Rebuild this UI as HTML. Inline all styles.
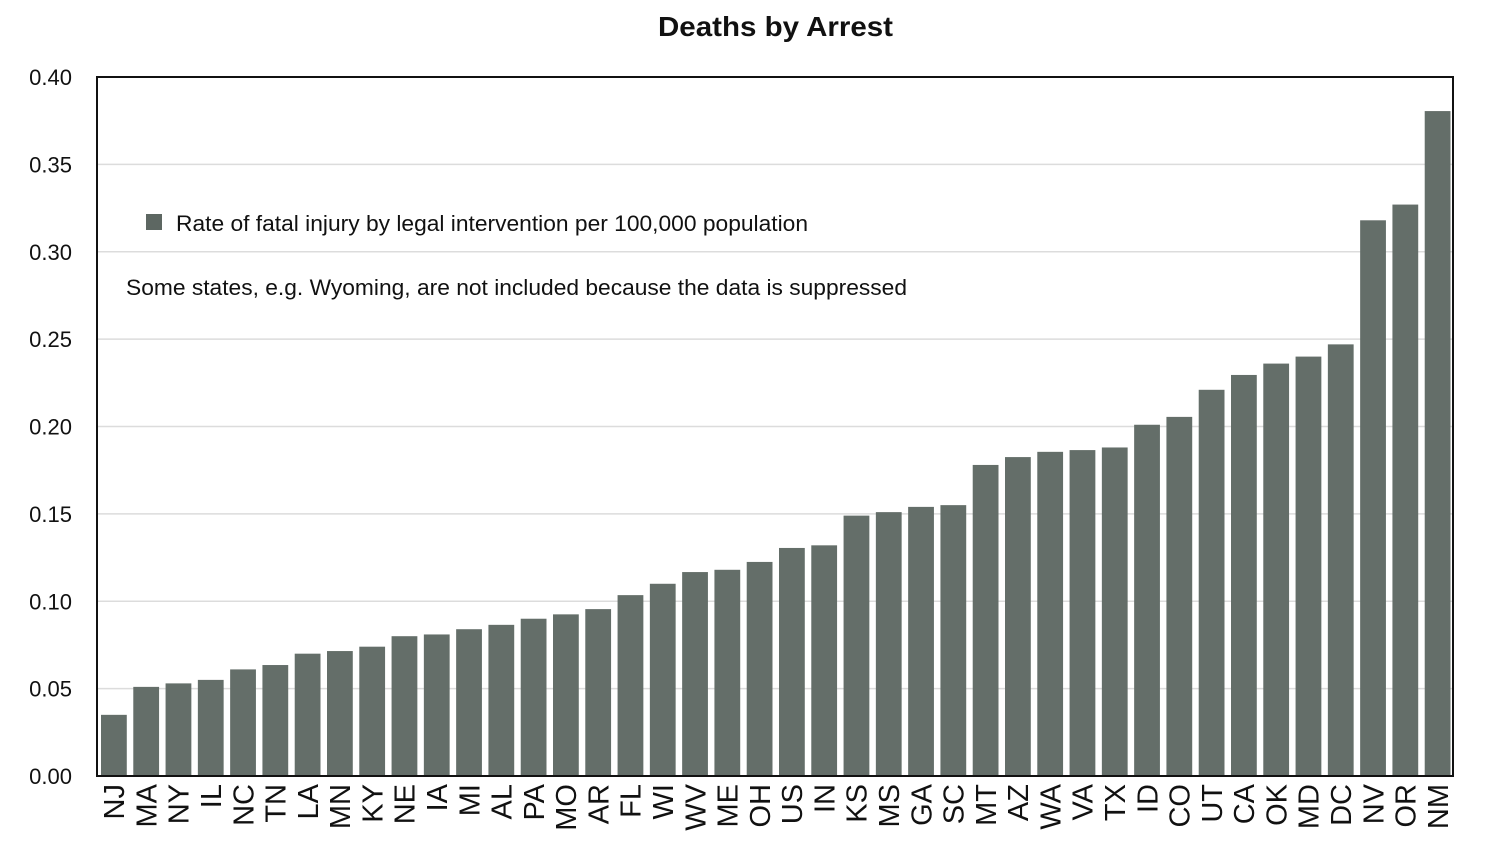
<!DOCTYPE html>
<html><head><meta charset="utf-8"><style>
html,body{margin:0;padding:0;background:#fff;}
body{width:1500px;height:848px;overflow:hidden;font-family:"Liberation Sans",Arial,sans-serif;}
</style></head><body>
<svg id="chart" width="1500" height="848" xmlns="http://www.w3.org/2000/svg" font-family="Liberation Sans, Arial, sans-serif"></svg>
<script>
const categories=["NJ","MA","NY","IL","NC","TN","LA","MN","KY","NE","IA","MI","AL","PA","MO","AR","FL","WI","WV","ME","OH","US","IN","KS","MS","GA","SC","MT","AZ","WA","VA","TX","ID","CO","UT","CA","OK","MD","DC","NV","OR","NM"];
const values=[0.035,0.051,0.053,0.055,0.061,0.0635,0.070,0.0715,0.074,0.080,0.081,0.084,0.0865,0.090,0.0925,0.0955,0.1035,0.110,0.1167,0.118,0.1225,0.1305,0.132,0.149,0.151,0.154,0.155,0.178,0.1825,0.1855,0.1865,0.188,0.201,0.2055,0.221,0.2295,0.236,0.240,0.247,0.318,0.327,0.3805];
const yTicks=[0,0.05,0.10,0.15,0.20,0.25,0.30,0.35,0.40];
const yTickLabels=["0.00","0.05","0.10","0.15","0.20","0.25","0.30","0.35","0.40"];

const svg=document.getElementById('chart');
const NS='http://www.w3.org/2000/svg';
const L=97,R=1453,T=77,B=776,yMax=0.40;
const y=v=>B-(v/yMax)*(B-T);
const band=(R-L)/categories.length;
const x=i=>L+i*band;
function mk(tag,attrs,parent){const e=document.createElementNS(NS,tag);for(const k in attrs)e.setAttribute(k,attrs[k]);(parent||svg).appendChild(e);return e;}

const title=mk('text',{x:658,y:36,'font-size':28,'font-weight':'bold',fill:'#111',textLength:235,lengthAdjust:'spacingAndGlyphs'});
title.textContent='Deaths by Arrest';



yTicks.forEach((t,i)=>{
  if(t>0&&t<yMax){const g=mk('line',{x1:L,x2:R,y1:y(t),y2:y(t),stroke:'#dcdcdc','stroke-width':1.5});
  
  }
  const lb=mk('text',{x:72,y:y(t)+8,'text-anchor':'end','font-size':22,fill:'#111'});
  lb.textContent=yTickLabels[i];
  
  
});

categories.forEach((c,i)=>{
  const bx=x(i)+4,bw=band-6.5;
  const r=mk('rect',{x:bx,y:y(values[i]),width:bw,height:B-y(values[i]),fill:'#646e69'});
  
  
  const cx=x(i)+band/2+1;
  const t=mk('text',{x:cx,y:784,dy:10,'text-anchor':'end','font-size':29,fill:'#111',transform:`rotate(-90 ${cx} 784)`});
  t.textContent=c;
  
  
});

const frame=mk('rect',{x:L,y:T,width:R-L,height:B-T,fill:'none',stroke:'#111','stroke-width':2});



const ls=mk('rect',{x:146,y:214,width:16,height:16,fill:'#5d6762'});


const lt=mk('text',{x:176,y:231,'font-size':22,fill:'#111',textLength:632,lengthAdjust:'spacingAndGlyphs'});
lt.textContent='Rate of fatal injury by legal intervention per 100,000 population';


const note=mk('text',{x:126,y:295,'font-size':22,fill:'#111',textLength:781,lengthAdjust:'spacingAndGlyphs'});
note.textContent='Some states, e.g. Wyoming, are not included because the data is suppressed';


</script>
</body></html>
